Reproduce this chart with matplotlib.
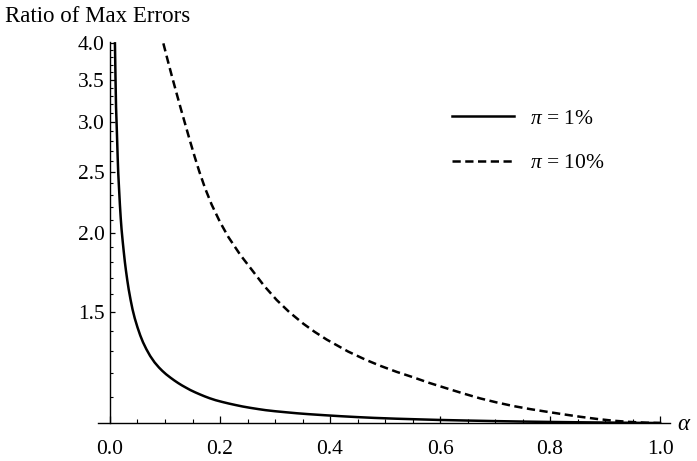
import numpy as np
import matplotlib
matplotlib.use("Agg")
import matplotlib.pyplot as plt
from matplotlib.ticker import FixedLocator, FormatStrFormatter, NullFormatter

# values (alpha, ratio)
alpha_1pct = [0.009, 0.010, 0.011, 0.0125, 0.014, 0.015, 0.0165, 0.018, 0.0195, 0.021,
              0.023, 0.025, 0.027, 0.029, 0.0315, 0.034, 0.0375, 0.041, 0.045, 0.05,
              0.055, 0.06, 0.066, 0.073, 0.081, 0.089, 0.095, 0.102, 0.11, 0.117,
              0.124, 0.131, 0.138, 0.146, 0.155, 0.163, 0.172, 0.181, 0.192, 0.204,
              0.216, 0.228, 0.241, 0.255, 0.27, 0.283, 0.3, 0.32, 0.34, 0.36,
              0.39, 0.42, 0.45, 0.48, 0.52, 0.56, 0.6, 0.65, 0.7, 0.75,
              0.8, 0.85, 0.9, 0.95, 1.0]
ratio_1pct = [4.0, 3.53, 3.17, 2.90, 2.632, 2.49, 2.35, 2.22, 2.114, 2.03,
              1.945, 1.870, 1.802, 1.745, 1.683, 1.629, 1.567, 1.514, 1.466, 1.418,
              1.377, 1.343, 1.31, 1.2775, 1.248, 1.2248, 1.21, 1.1948, 1.18, 1.168,
              1.157, 1.147, 1.138, 1.128, 1.1184, 1.1106, 1.1023, 1.0948, 1.0869, 1.080,
              1.0737, 1.068, 1.0622, 1.057, 1.052, 1.048, 1.044, 1.040, 1.0362, 1.033,
              1.0289, 1.0251, 1.0218, 1.0189, 1.0159, 1.0135, 1.0112, 1.009, 1.007, 1.0053,
              1.0039, 1.0027, 1.0017, 1.0007, 1.0]

alpha_10pct = [0.097, 0.105, 0.112, 0.12, 0.129, 0.137, 0.1455, 0.154, 0.1624, 0.173,
               0.1848, 0.2, 0.2152, 0.237, 0.2606, 0.28, 0.303, 0.326, 0.3515, 0.372,
               0.394, 0.433, 0.465, 0.491, 0.521, 0.551, 0.58, 0.612, 0.642, 0.673,
               0.703, 0.733, 0.764, 0.794, 0.825, 0.855, 0.885, 0.915, 0.945, 0.975, 1.0]
ratio_10pct = [4.0, 3.757, 3.562, 3.358, 3.145, 2.972, 2.80, 2.643, 2.504, 2.355,
               2.22, 2.083, 1.972, 1.847, 1.737, 1.651, 1.567, 1.499, 1.437, 1.395,
               1.356, 1.298, 1.2595, 1.2326, 1.2054, 1.1818, 1.158, 1.135, 1.114, 1.094,
               1.078, 1.064, 1.052, 1.042, 1.032, 1.023, 1.015, 1.0084, 1.004, 1.001, 1.0]

labels = [r"$\pi$ = 1%", r"$\pi$ = 10%"]
x_major = [0.0, 0.2, 0.4, 0.6, 0.8, 1.0]
x_minor = [0.05, 0.1, 0.15, 0.25, 0.3, 0.35, 0.45, 0.5, 0.55, 0.65, 0.7, 0.75, 0.85, 0.9, 0.95]
y_major = [1.5, 2.0, 2.5, 3.0, 3.5, 4.0]
y_minor = [1.1, 1.2, 1.3, 1.4, 1.6, 1.7, 1.8, 1.9, 2.1, 2.2, 2.3, 2.4, 2.6, 2.7, 2.8, 2.9,
           3.1, 3.2, 3.3, 3.4, 3.6, 3.7, 3.8, 3.9]

plt.rcParams['font.family'] = ['Liberation Serif', 'DejaVu Serif']
plt.rcParams['mathtext.fontset'] = 'custom'
plt.rcParams['mathtext.rm'] = 'Liberation Serif'
plt.rcParams['mathtext.it'] = 'Liberation Serif:italic'

fig = plt.figure(figsize=(6.97, 4.61), dpi=100)
ax = fig.add_axes([0.1406, 0.0824, 0.8207, 0.8265])

ax.plot(alpha_1pct, ratio_1pct, color='black', lw=1.8, label=labels[0])
ax.plot(alpha_10pct, ratio_10pct, color='black', lw=1.8, linestyle=(0, (3.3, 1.8)),
        label=labels[1])

ax.set_yscale('log')
ax.set_xlim(-0.0218, 1.018)
ax.set_ylim(1.0, 4.02)

for s in ['top', 'right']:
    ax.spines[s].set_visible(False)
ax.spines['left'].set_position(('data', 0))
ax.spines['left'].set_bounds(1.0, 4.02)
for s in ['left', 'bottom']:
    ax.spines[s].set_linewidth(1.0)

ax.xaxis.set_major_locator(FixedLocator(x_major))
ax.xaxis.set_minor_locator(FixedLocator(x_minor))
ax.xaxis.set_major_formatter(FormatStrFormatter('%.1f'))
ax.yaxis.set_major_locator(FixedLocator(y_major))
ax.yaxis.set_minor_locator(FixedLocator(y_minor))
ax.yaxis.set_major_formatter(FormatStrFormatter('%.1f'))
ax.yaxis.set_minor_formatter(NullFormatter())

ax.tick_params(axis='x', which='major', direction='in', length=4.8, width=0.9,
               labelsize=15.5, pad=12.5)
ax.tick_params(axis='x', which='minor', direction='in', length=3.1, width=0.8)
ax.tick_params(axis='y', which='major', direction='in', length=3.4, width=0.9,
               labelsize=15.5, pad=4)
ax.tick_params(axis='y', which='minor', direction='in', length=2.4, width=0.8)

leg = ax.legend(loc='upper left', bbox_to_anchor=(0.6485, 0.7646),
                bbox_transform=fig.transFigure, frameon=False, fontsize=15.5,
                handlelength=2.9, handletextpad=0.7, labelspacing=1.15, borderpad=0,
                borderaxespad=0)

fig.text(0.007, 1 - 17 / 461, "Ratio of Max Errors", fontsize=16.5, va='center', ha='left')
fig.text(677 / 697, 1 - 424 / 461, r"$\alpha$", fontsize=16.5, va='center', ha='left')

fig.savefig("out.png", dpi=100)
